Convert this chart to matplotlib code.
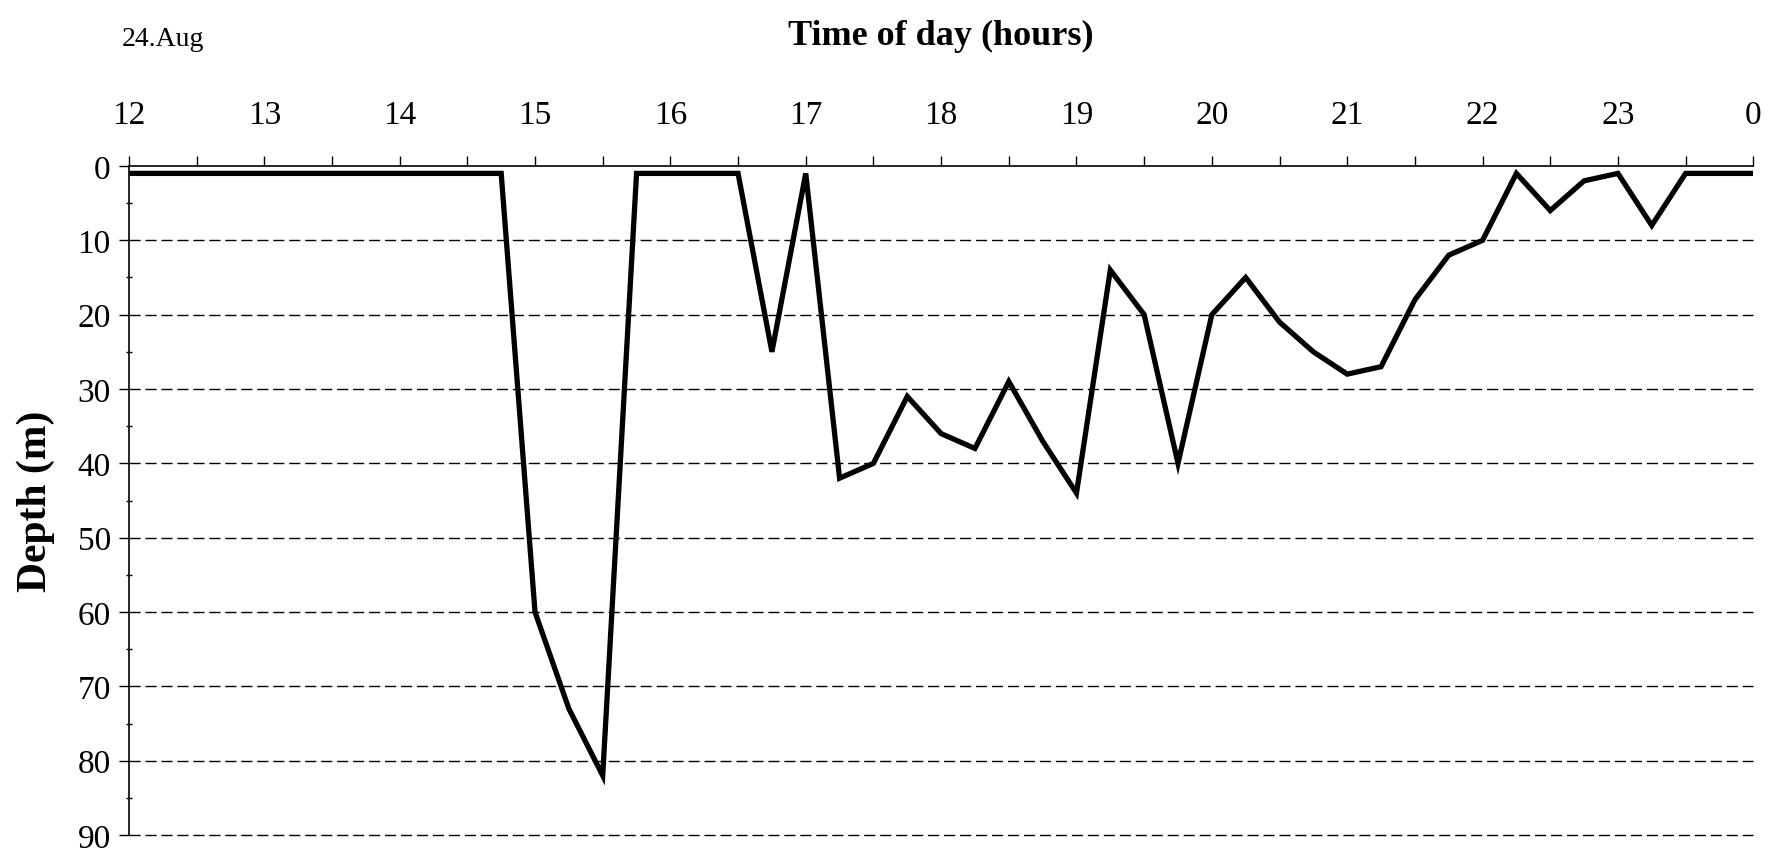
import matplotlib.pyplot as plt
from matplotlib.ticker import MultipleLocator

# dive record, one reading every 15 minutes (hour of day, depth in m)
hours = [12.0, 12.25, 12.5, 12.75, 13.0, 13.25, 13.5, 13.75,
         14.0, 14.25, 14.5, 14.75, 15.0, 15.25, 15.5, 15.75,
         16.0, 16.25, 16.5, 16.75, 17.0, 17.25, 17.5, 17.75,
         18.0, 18.25, 18.5, 18.75, 19.0, 19.25, 19.5, 19.75,
         20.0, 20.25, 20.5, 20.75, 21.0, 21.25, 21.5, 21.75,
         22.0, 22.25, 22.5, 22.75, 23.0, 23.25, 23.5, 23.75, 24.0]
depth = [1, 1, 1, 1, 1, 1, 1, 1,
         1, 1, 1, 1, 60, 73, 82, 1,
         1, 1, 1, 25, 1, 42, 40, 31,
         36, 38, 29, 37, 44, 14, 20, 40,
         20, 15, 21, 25, 28, 27, 18, 12,
         10, 1, 6, 2, 1, 8, 1, 1, 1]

hour_ticks = list(range(12, 25))
hour_labels = [str(h) for h in range(12, 24)] + ['0']
depth_ticks = list(range(0, 100, 10))

plt.rcParams['font.family'] = ['Liberation Serif', 'DejaVu Serif']

fig = plt.figure(figsize=(17.71, 8.54), dpi=100)
ax = fig.add_axes([0.0728, 0.021, 0.9172, 0.7835])

ax.plot(hours, depth, color='black', lw=3.8, solid_joinstyle='miter')

ax.set_xlim(12, 24)
ax.set_ylim(90, 0)

ax.xaxis.tick_top()
ax.xaxis.set_label_position('top')
ax.set_xticks(hour_ticks)
ax.set_xticklabels(hour_labels)
ax.xaxis.set_minor_locator(MultipleLocator(0.5))
ax.set_yticks(depth_ticks)
ax.yaxis.set_minor_locator(MultipleLocator(5))

ax.tick_params(axis='x', which='both', direction='out', length=7, width=1,
               labelsize=24, pad=19)
ax.tick_params(axis='y', which='major', direction='out', length=7, width=1,
               labelsize=24, pad=6)
ax.tick_params(axis='y', which='minor', direction='inout', length=5, width=1)

for side in ['right', 'bottom']:
    ax.spines[side].set_visible(False)
for side in ['top', 'left']:
    ax.spines[side].set_linewidth(1.2)

# dashed depth lines
for d in depth_ticks[1:]:
    ax.axhline(d, color='black', lw=1.0, ls=(0, (8, 3.5)), zorder=1,
               clip_on=False)

ax.set_xlabel('Time of day (hours)', fontsize=26, fontweight='bold', labelpad=40)
ax.set_ylabel('Depth (m)', fontsize=30, fontweight='bold', labelpad=16)

fig.text(122 / 1771, 1 - 40 / 854, '24.Aug', fontsize=20, ha='left', va='center')

fig.savefig('out.png', dpi=100)
